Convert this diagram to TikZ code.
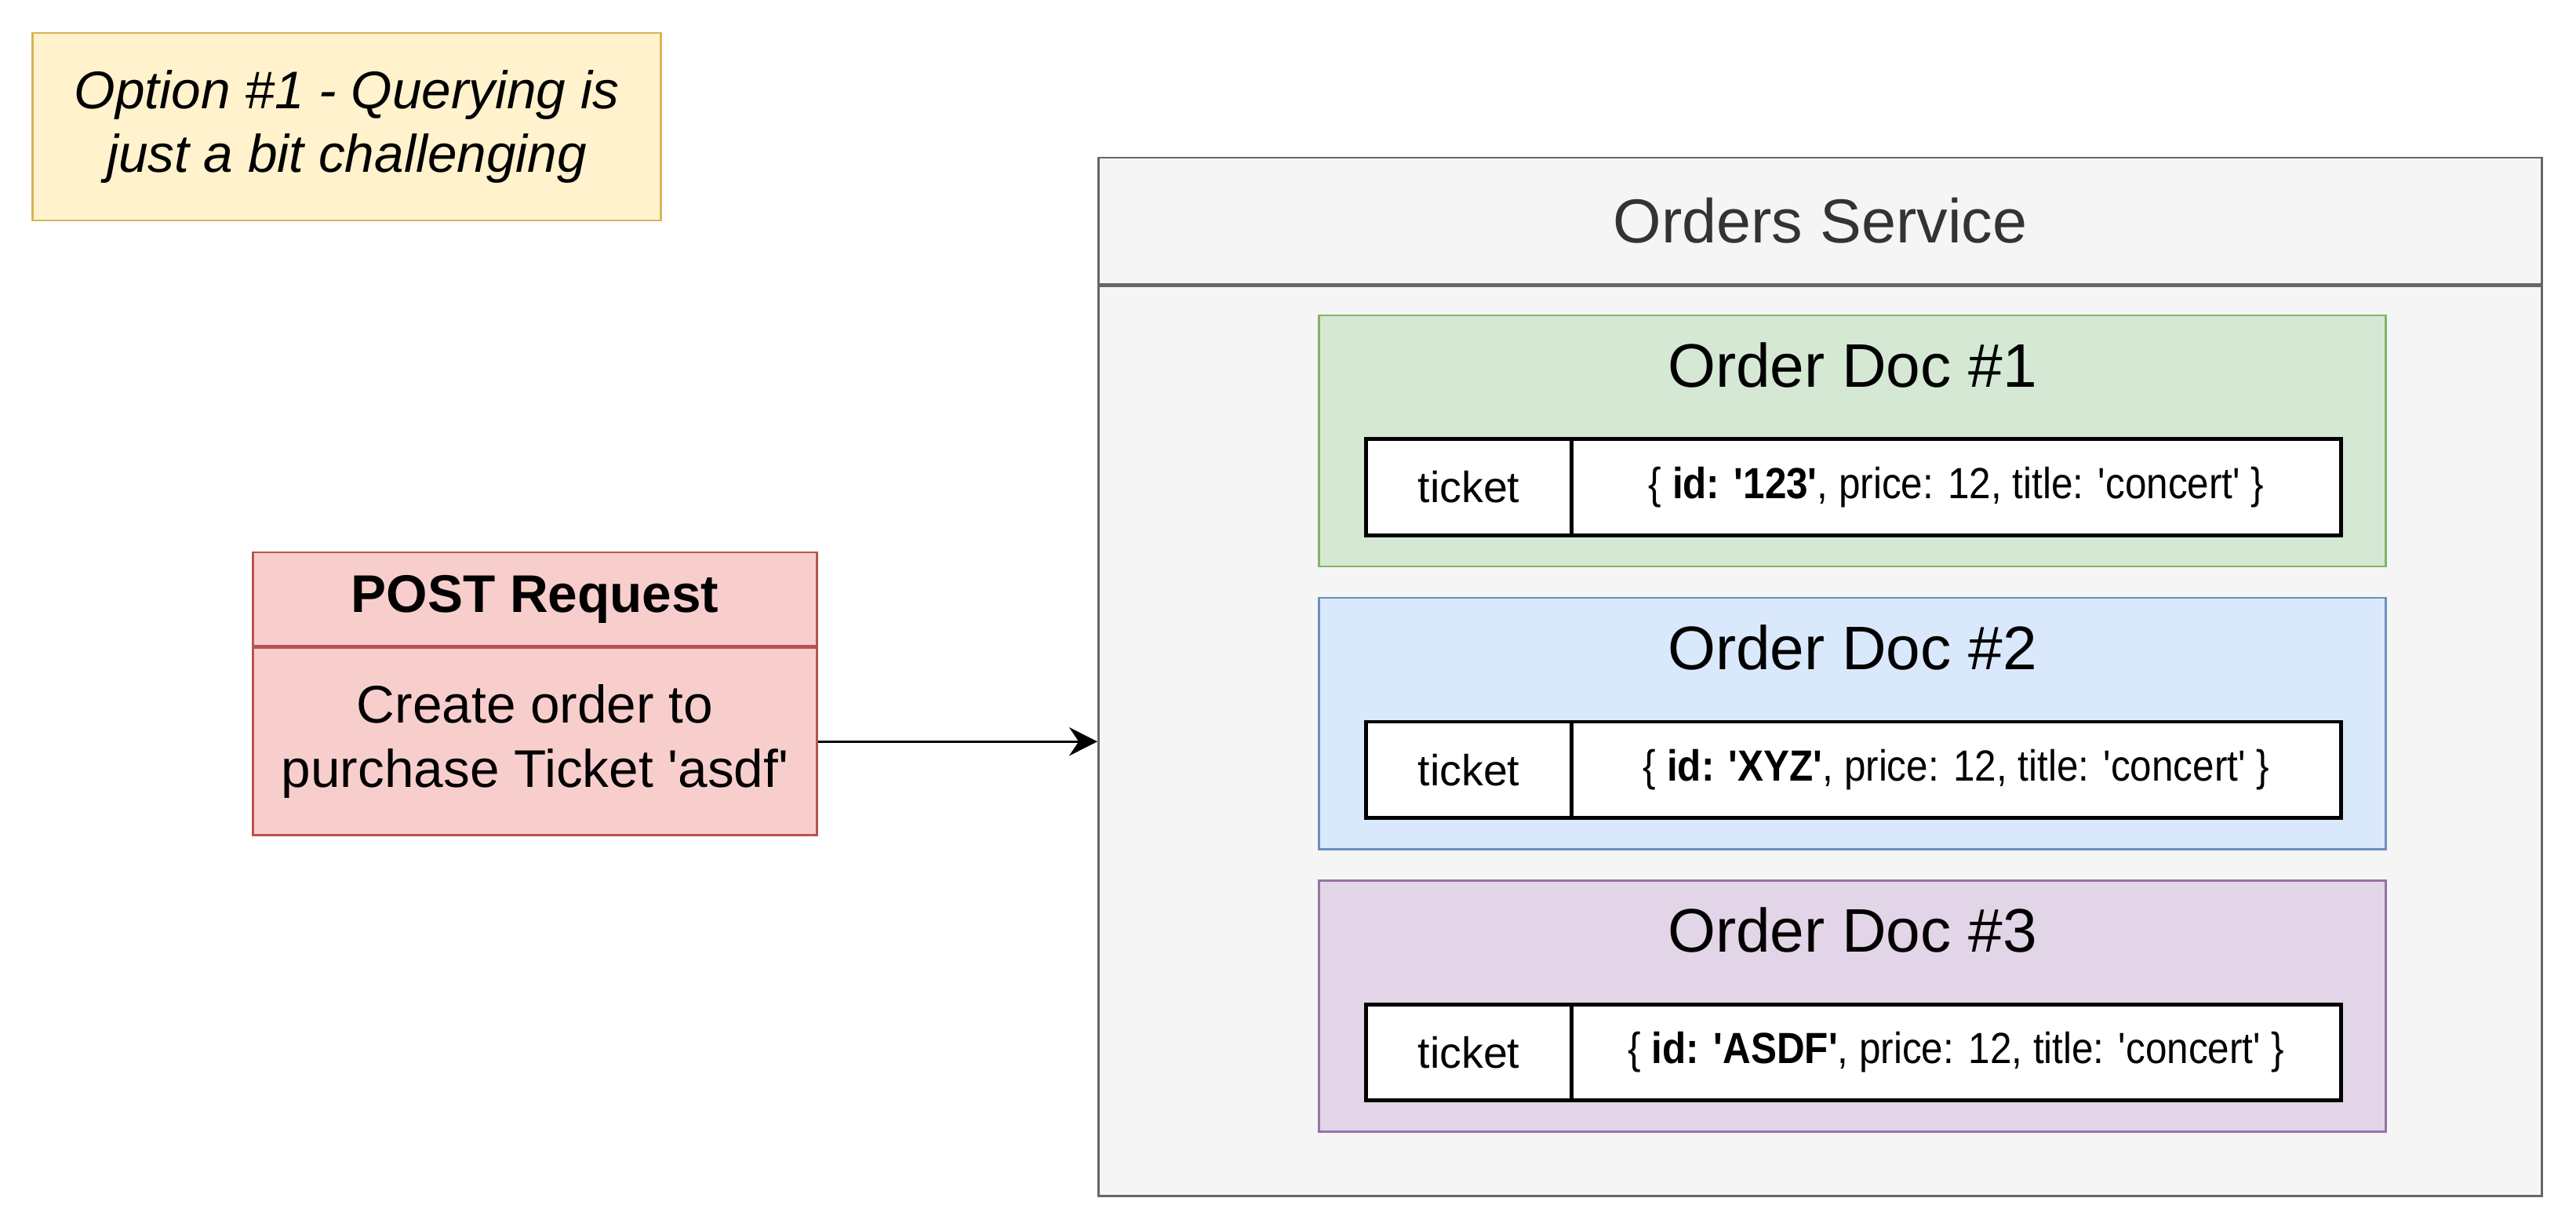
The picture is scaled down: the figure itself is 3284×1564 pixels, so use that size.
\documentclass[tikz,border=0pt]{standalone}
\usepackage{graphicx}
\usepackage{fontspec}
\setmainfont{Liberation Sans}[Ligatures=TeXOff]
\usetikzlibrary{arrows.meta, positioning}

\definecolor{noteFill}{HTML}{FFF2CC}
\definecolor{noteLine}{HTML}{D6B656}
\definecolor{reqFill}{HTML}{F8CECC}
\definecolor{reqLine}{HTML}{B85450}
\definecolor{svcFill}{HTML}{F5F5F5}
\definecolor{svcLine}{HTML}{666666}
\definecolor{svcText}{HTML}{333333}
\definecolor{greenFill}{HTML}{D5E8D4}
\definecolor{greenLine}{HTML}{82B366}
\definecolor{blueFill}{HTML}{DAE8FC}
\definecolor{blueLine}{HTML}{6C8EBF}
\definecolor{purpleFill}{HTML}{E1D5E7}
\definecolor{purpleLine}{HTML}{9673A6}

\newcommand{\ticketval}[1]{\scalebox{0.89}[1]{\{ \textbf{id: '#1'}, price: 12, title: 'concert' \}}}

\tikzset{
  box/.style={draw, line width=0.75pt, inner sep=0pt, align=center},
  cell/.style={draw=black, fill=white, line width=0.75pt, inner sep=0pt,
    minimum height=1.2cm, font=\fontsize{15.8}{19}\selectfont},
}

\begin{document}
\begin{tikzpicture}[x=0.01cm, y=-0.01cm]
  \useasboundingbox (0,0) rectangle (3284,1564);
  %--- Note ---
  \node[box, draw=noteLine, fill=noteFill, minimum width=8cm, minimum height=2.39cm,
        font=\fontsize{19.2}{23.2}\selectfont\itshape] (note) at (442,161.5)
        {Option \#1 - Querying is\\just a bit challenging};
  %--- Request ---
  \node[box, draw=reqLine, fill=reqFill, minimum width=7.18cm, minimum height=1.19cm,
        font=\fontsize{19.2}{23.2}\selectfont\bfseries] (reqhead) at (682,763.5) {POST Request};
  \node[box, draw=reqLine, fill=reqFill, minimum width=7.18cm, minimum height=2.39cm,
        font=\fontsize{19.2}{23.2}\selectfont, below=0pt of reqhead] (reqbody)
        {Create order to\\purchase Ticket 'asdf'};
  %--- Orders service ---
  \node[box, draw=svcLine, fill=svcFill, minimum width=18.39cm, minimum height=1.61cm,
        text=svcText, font=\fontsize{22.5}{27}\selectfont] (svchead) at (2320.5,281.5) {Orders Service};
  \node[box, draw=svcLine, fill=svcFill, minimum width=18.39cm, minimum height=11.59cm,
        below=0pt of svchead] (svcbody) {};
  \draw[line width=0.95pt, -{Stealth[length=0.36cm, width=0.36cm, inset=0.12cm]}]
    (reqbody.east) -- (svcbody.west |- reqbody.east);
  % doc 1
  \begin{scope}[yshift=0cm]
    \node[box, draw=greenLine, fill=greenFill, minimum width=13.59cm, minimum height=3.2cm] (doc1) at (2361.5,562) {};
    \node[font=\fontsize{22.3}{27}\selectfont] (doc1title) at (2361.5,465) {Order Doc \#1};
    \node[cell, minimum width=2.59cm] (key1) at (1872.5,621) {ticket};
    \node[cell, minimum width=9.78cm, right=0pt of key1] (val1) {\ticketval{123}};
    \draw[line width=1.3pt] (key1.north west) rectangle (val1.south east);
  \end{scope}
  % doc 2
  \begin{scope}[yshift=-3.6cm]
    \node[box, draw=blueLine, fill=blueFill, minimum width=13.59cm, minimum height=3.2cm] (doc2) at (2361.5,562) {};
    \node[font=\fontsize{22.3}{27}\selectfont] (doc2title) at (2361.5,465) {Order Doc \#2};
    \node[cell, minimum width=2.59cm] (key2) at (1872.5,621) {ticket};
    \node[cell, minimum width=9.78cm, right=0pt of key2] (val2) {\ticketval{XYZ}};
    \draw[line width=1.3pt] (key2.north west) rectangle (val2.south east);
  \end{scope}
  % doc 3
  \begin{scope}[yshift=-7.2cm]
    \node[box, draw=purpleLine, fill=purpleFill, minimum width=13.59cm, minimum height=3.2cm] (doc3) at (2361.5,562) {};
    \node[font=\fontsize{22.3}{27}\selectfont] (doc3title) at (2361.5,465) {Order Doc \#3};
    \node[cell, minimum width=2.59cm] (key3) at (1872.5,621) {ticket};
    \node[cell, minimum width=9.78cm, right=0pt of key3] (val3) {\ticketval{ASDF}};
    \draw[line width=1.3pt] (key3.north west) rectangle (val3.south east);
  \end{scope}
\end{tikzpicture}
\end{document}
